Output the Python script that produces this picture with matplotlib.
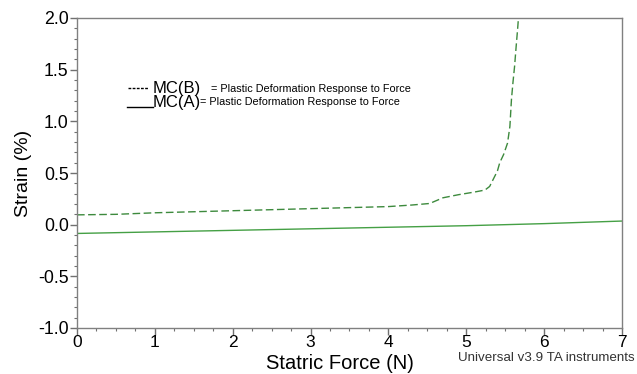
import numpy as np
import matplotlib.pyplot as plt
from matplotlib.ticker import MultipleLocator

plt.rcParams['font.family'] = ['Liberation Sans', 'DejaVu Sans']

# MC(B) - dashed curve
force_b = [0.0, 0.5, 1.0, 1.5, 2.0, 2.5, 3.0, 3.5, 4.0, 4.3, 4.53, 4.7, 4.9, 5.1, 5.24, 5.3,
           5.34, 5.4, 5.43, 5.48, 5.53, 5.56, 5.58, 5.6, 5.62, 5.64, 5.66, 5.67]
strain_b = [0.095, 0.10, 0.115, 0.125, 0.135, 0.145, 0.155, 0.165, 0.175, 0.19, 0.205, 0.26,
            0.29, 0.315, 0.335, 0.37, 0.43, 0.52, 0.60, 0.68, 0.79, 0.95, 1.21, 1.38, 1.53,
            1.72, 1.90, 2.0]

# MC(A) - solid line
force_a = [0, 1, 2, 3, 4, 5, 6, 7]
strain_a = [-0.085, -0.07, -0.055, -0.04, -0.025, -0.01, 0.01, 0.035]

fig = plt.figure(figsize=(6.37, 3.74), dpi=100)
ax = fig.add_axes([77/637, 1-328/374, 545/637, 310/374])

ax.plot(force_b, strain_b, color='#3d8a3d', lw=1.0, ls=(0, (5.5, 2.5)))
ax.plot(force_a, strain_a, color='#45a045', lw=1.0)

ax.set_xlim(0, 7)
ax.set_ylim(-1.0, 2.0)
ax.xaxis.set_major_locator(MultipleLocator(1))
ax.xaxis.set_minor_locator(MultipleLocator(0.25))
ax.yaxis.set_major_locator(MultipleLocator(0.5))
ax.yaxis.set_minor_locator(MultipleLocator(0.1))
ax.yaxis.set_major_formatter(plt.FormatStrFormatter('%.1f'))
ax.tick_params(which='major', direction='out', length=5, width=1, color='#707070',
               labelsize=12.8, pad=1)
ax.tick_params(axis='x', which='major', pad=0, labelsize=12.5)
ax.tick_params(which='minor', direction='out', length=2.5, width=0.8, color='#707070')
for s in ax.spines.values():
    s.set_color('#808080')
    s.set_linewidth(1.0)

ax.set_xlabel('Statric Force (N)', fontsize=14.5)
ax.xaxis.set_label_coords((340 - 77) / 545, -0.085)
ax.set_ylabel('Strain (%)', fontsize=14, labelpad=4)

# legend drawn as text in the plot
ax.plot([0.66, 0.91], [1.325, 1.325], color='black', lw=1.0, ls=(0, (2, 1)))
ax.text(0.97, 1.27, 'MC(B)', fontsize=12, va='baseline')
ax.text(1.72, 1.28, '= Plastic Deformation Response to Force', fontsize=7.8, va='baseline')
ax.plot([0.64, 0.97], [1.14, 1.14], color='black', lw=1.0)
ax.text(0.97, 1.14, 'MC(A)', fontsize=12, va='baseline')
ax.text(1.58, 1.155, '= Plastic Deformation Response to Force', fontsize=7.8, va='baseline')

fig.text(635/637, 1-361/374, 'Universal v3.9 TA instruments', fontsize=9.6, ha='right',
         va='baseline', color='#333333')

fig.savefig('out.png', dpi=100)
